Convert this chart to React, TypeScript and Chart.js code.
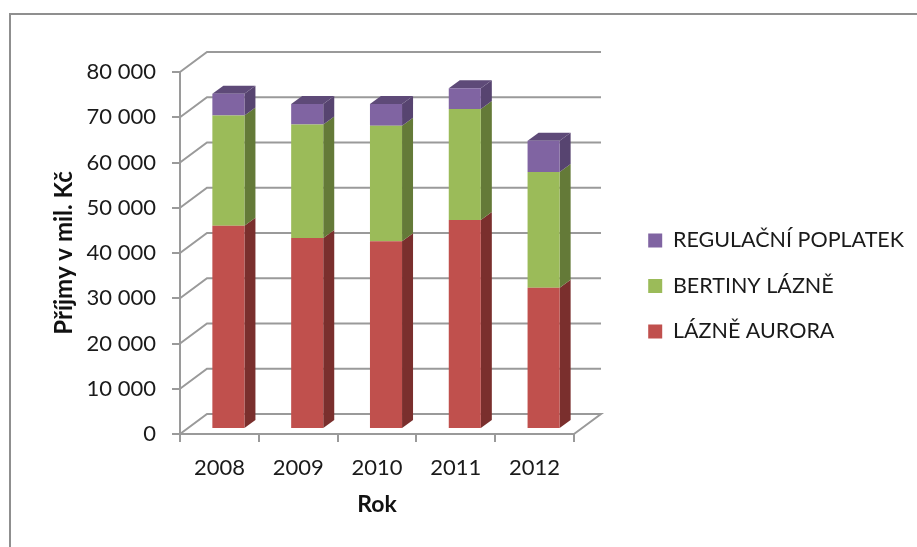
import React, { useEffect, useRef } from "react";
import { Chart, registerables } from "chart.js";

Chart.register(...registerables);

const categories = ["2008", "2009", "2010", "2011", "2012"];
const aurora = [44900, 42200, 41500, 46200, 31200];
const bertiny = [24400, 25100, 25500, 24500, 25600];
const poplatek = [4800, 4500, 4800, 4600, 6900];

const FONT = "Lato, Carlito, sans-serif";
const GRID = "#9a9a9a";
const WALL_DX = 27;
const WALL_DY = -20;
const BAR_SHIFT_X = 9;
const BAR_SHIFT_Y = -5;
const SIDE_DX = 11;
const SIDE_DY = -8;
const RIGHT_PAD = 3;
const sideColors = ["#7A2F2D", "#647A38", "#574470"];
const topColors = ["#8A3A37", "#7A9345", "#5E4A78"];

function poly(ctx: CanvasRenderingContext2D, pts: number[][], fill: string) {
  ctx.beginPath();
  pts.forEach((p, i) => (i ? ctx.lineTo(p[0], p[1]) : ctx.moveTo(p[0], p[1])));
  ctx.closePath();
  ctx.fillStyle = fill;
  ctx.fill();
}

const plot3d = {
  id: "plot3d",
  beforeDatasetsDraw(chart: any) {
    const { ctx, chartArea: a, scales } = chart;
    const y = scales.y;
    ctx.save();
    ctx.strokeStyle = GRID;
    ctx.lineWidth = 2;
    y.ticks.forEach((_: any, i: number) => {
      const py = y.getPixelForTick(i);
      ctx.beginPath();
      ctx.moveTo(a.left, py);
      ctx.lineTo(a.left + WALL_DX, py + WALL_DY);
      ctx.lineTo(a.right + WALL_DX, py + WALL_DY);
      if (i === 0) ctx.lineTo(a.right, py);
      ctx.stroke();
    });
    ctx.restore();

    ctx.save();
    ctx.translate(BAR_SHIFT_X, BAR_SHIFT_Y);
    chart.data.datasets.forEach((_: any, d: number) => {
      const els = chart.getDatasetMeta(d).data;
      els.forEach((el: any) => {
        const r = el.x + el.width / 2;
        poly(ctx, [[r, el.base], [r + SIDE_DX, el.base + SIDE_DY], [r + SIDE_DX, el.y + SIDE_DY], [r, el.y]], sideColors[d]);
        if (d === chart.data.datasets.length - 1) {
          const l = el.x - el.width / 2;
          poly(ctx, [[l, el.y], [l + SIDE_DX, el.y + SIDE_DY], [r + SIDE_DX, el.y + SIDE_DY], [r, el.y]], topColors[d]);
        }
      });
    });
  },
  afterDatasetsDraw(chart: any) {
    chart.ctx.restore();
  },
};

export default function App() {
  const ref = useRef<HTMLCanvasElement>(null);
  useEffect(() => {
    const chart = new Chart(ref.current as HTMLCanvasElement, {
      type: "bar",
      data: {
        labels: categories,
        datasets: [
          { label: "LÁZNĚ AURORA", data: aurora, backgroundColor: "#C0504D", clip: false },
          { label: "BERTINY LÁZNĚ", data: bertiny, backgroundColor: "#9BBB59", clip: false },
          { label: "REGULAČNÍ POPLATEK", data: poplatek, backgroundColor: "#8064A2", clip: false },
        ] as any,
      },
      plugins: [plot3d],
      options: {
        responsive: false,
        animation: false,
        layout: { padding: { top: 72, left: 50, right: RIGHT_PAD, bottom: 47 } },
        datasets: { bar: { barPercentage: 0.407, categoryPercentage: 1 } },
        plugins: {
          tooltip: { enabled: false },
          legend: {
            position: "right",
            reverse: true,
            maxWidth: 330,
            labels: {
              boxWidth: 14,
              boxHeight: 14,
              padding: 24,
              color: "#1a1a1a",
              font: { family: FONT, size: 21.5 },
            },
          },
        },
        scales: {
          x: {
            stacked: true,
            grid: { drawOnChartArea: false, drawTicks: true, tickLength: 8, color: GRID, lineWidth: 2 },
            border: { color: GRID, width: 2 },
            ticks: { color: "#1a1a1a", padding: 13, font: { family: FONT, size: 22 }, maxRotation: 0 },
            title: {
              display: true,
              text: "Rok",
              color: "#111",
              font: { family: FONT, size: 23, weight: "bold" },
              padding: { top: 0, bottom: -18 },
            },
            afterFit(s: any) {
              s.height = 66;
            },
          },
          y: {
            stacked: true,
            min: 0,
            max: 80000,
            grid: { drawOnChartArea: false, drawTicks: true, tickLength: 8, color: GRID, lineWidth: 2 },
            border: { color: GRID, width: 2 },
            ticks: {
              stepSize: 10000,
              color: "#1a1a1a",
              padding: 16,
              font: { family: FONT, size: 22 },
              callback: (v: any) => String(v).replace(/\B(?=(\d{3})+$)/g, " "),
            },
            title: {
              display: true,
              text: "Příjmy v mil. Kč",
              color: "#111",
              font: { family: FONT, size: 24, weight: "bold" },
              padding: { top: 0, bottom: 0 },
            },
            afterFit(s: any) {
              s.width = 180 - 50;
            },
          },
          gap: {
            type: "linear",
            position: "right",
            grid: { display: false },
            border: { display: false },
            ticks: { display: false },
            afterFit(s: any) {
              s.width = 343 - RIGHT_PAD - (s.chart.legend?.width ?? 0);
            },
          },
        },
      } as any,
    });
    return () => chart.destroy();
  }, []);
  return (
    <div style={{ position: "absolute", left: 0, top: 0, width: 917, height: 547, overflow: "hidden", background: "#fff" }}>
      <div
        style={{
          position: "absolute",
          left: 9,
          top: 13,
          width: 908,
          height: 534,
          boxSizing: "border-box",
          borderLeft: "2px solid #8f8f8f",
          borderTop: "2px solid #8f8f8f",
        }}
      />
      <canvas ref={ref} width={917} height={547} style={{ position: "absolute", left: 0, top: 0 }} />
    </div>
  );
}
